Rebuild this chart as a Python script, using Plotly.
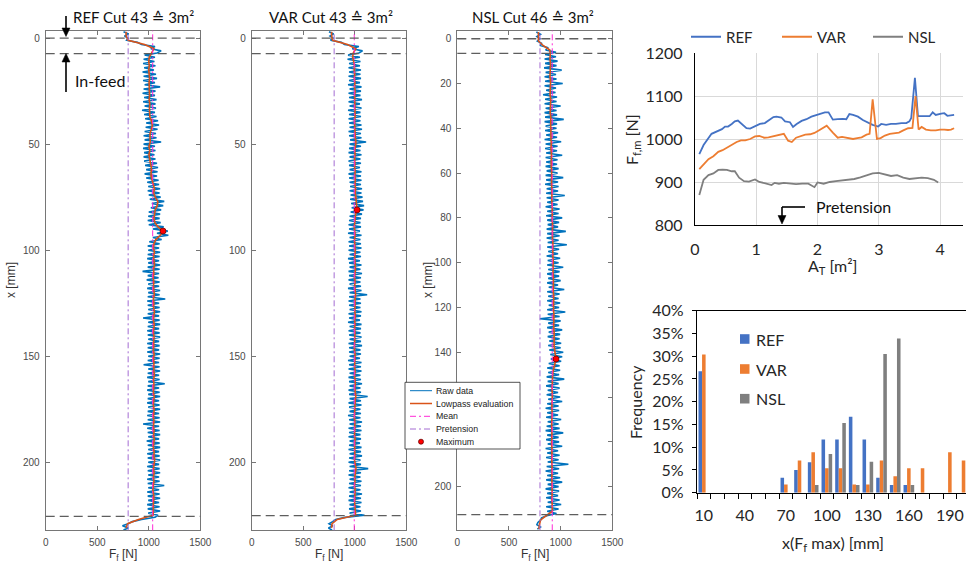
import numpy as np
import plotly.graph_objects as go

W, H = 966, 564

# ---------------------------------------------------------------------------
# Feed force along the cut (F_f in N), one sample per mm starting at x = -3 mm
# ---------------------------------------------------------------------------
ref_raw = [
    755, 805, 765, 800, 785, 890, 930, 1060, 1020, 1120,
    1080, 960, 1060, 950, 1055, 945, 1065, 955, 1050, 940,
    1070, 950, 1080, 945, 1060, 960, 1110, 950, 1065, 940,
    1060, 955, 1075, 945, 1065, 960, 1070, 935, 1060, 955,
    1075, 965, 1090, 975, 1100, 970, 1085, 960, 1070, 950,
    1075, 960, 1120, 950, 1060, 945, 1065, 955, 1055, 950,
    1065, 955, 1080, 965, 1090, 975, 1085, 960, 1080, 975,
    1095, 985, 1100, 995, 1110, 990, 1105, 1000, 1115, 1010,
    1150, 1030, 1140, 1020, 1120, 1000, 1110, 995, 1105, 990,
    1115, 1000, 1145, 1040, 1185, 1080, 1190, 1040, 1125, 1005,
    1105, 990, 1100, 995, 1110, 990, 1105, 985, 1100, 995,
    1110, 990, 1105, 940, 1100, 990, 1095, 980, 1105, 995,
    1100, 985, 1110, 995, 1105, 990, 1160, 985, 1100, 990,
    1105, 995, 1110, 990, 1100, 945, 1105, 995, 1110, 990,
    1100, 985, 1105, 990, 1110, 995, 1100, 985, 1105, 990,
    1100, 985, 1110, 995, 1105, 990, 1100, 950, 1105, 995,
    1110, 990, 1100, 985, 1105, 995, 1155, 990, 1100, 985,
    1105, 995, 1110, 990, 1100, 985, 1105, 995, 1110, 990,
    1100, 985, 1105, 990, 1110, 945, 1100, 985, 1105, 990,
    1110, 995, 1100, 980, 1105, 990, 1110, 995, 1100, 985,
    1105, 990, 1110, 995, 1100, 985, 1105, 990, 1110, 995,
    1100, 985, 1105, 990, 1150, 995, 1100, 985, 1105, 990,
    1110, 995, 1100, 985, 1105, 990, 1110, 995, 1090, 1060,
    930, 840, 800, 745, 800, 755,
]
var_raw = [
    750, 795, 760, 790, 765, 870, 900, 1040, 975, 1075,
    1040, 935, 1050, 930, 1055, 945, 1050, 940, 1060, 945,
    1055, 940, 1060, 945, 1050, 935, 1065, 950, 1060, 940,
    1055, 945, 1070, 940, 1050, 950, 1065, 935, 1055, 945,
    1060, 940, 1055, 945, 1065, 950, 1070, 940, 1060, 945,
    1065, 955, 1110, 950, 1060, 945, 1055, 940, 1065, 950,
    1055, 940, 1060, 945, 1050, 950, 1065, 940, 1060, 945,
    1065, 950, 1060, 955, 1070, 950, 1065, 960, 1075, 955,
    1080, 965, 1090, 970, 1085, 960, 1070, 950, 1060, 945,
    1055, 940, 1060, 945, 1050, 935, 1065, 950, 1055, 940,
    1060, 945, 1065, 940, 1055, 950, 1060, 935, 1050, 945,
    1065, 950, 1055, 940, 1070, 945, 1060, 940, 1055, 950,
    1060, 935, 1065, 950, 1120, 945, 1055, 940, 1060, 945,
    1055, 950, 1065, 940, 1060, 945, 1050, 935, 1065, 950,
    1060, 940, 1055, 945, 1065, 950, 1060, 940, 1070, 945,
    1055, 945, 1060, 950, 1050, 935, 1065, 945, 1060, 940,
    1065, 950, 1055, 940, 1060, 945, 1070, 950, 1055, 940,
    1060, 945, 1125, 950, 1060, 940, 1065, 945, 1055, 950,
    1060, 935, 1055, 945, 1070, 950, 1060, 940, 1065, 945,
    1055, 940, 1060, 950, 1050, 945, 1065, 940, 1060, 950,
    1070, 945, 1055, 940, 1060, 950, 1130, 945, 1060, 940,
    1055, 950, 1065, 945, 1060, 940, 1055, 950, 1070, 945,
    1060, 940, 1065, 950, 1055, 945, 1060, 950, 1095, 905,
    815, 785, 750, 785, 745, 780,
]
nsl_raw = [
    765, 805, 770, 800, 775, 815, 805, 880, 855, 955,
    850, 955, 845, 970, 850, 960, 840, 1010, 855, 955,
    845, 960, 850, 1020, 845, 955, 860, 950, 830, 965,
    850, 960, 845, 1000, 855, 960, 845, 965, 850, 1030,
    845, 965, 855, 960, 850, 975, 860, 965, 845, 1005,
    855, 970, 850, 965, 860, 1015, 855, 970, 860, 965,
    855, 980, 865, 970, 855, 1025, 860, 975, 850, 980,
    865, 975, 860, 1040, 865, 980, 870, 970, 855, 990,
    870, 980, 860, 1015, 870, 985, 875, 975, 865, 1050,
    870, 990, 865, 980, 875, 1060, 870, 985, 880, 975,
    865, 995, 875, 980, 870, 1025, 880, 990, 870, 985,
    880, 1000, 870, 975, 885, 1035, 870, 990, 880, 980,
    870, 995, 885, 985, 870, 1045, 875, 990, 800, 1000,
    880, 985, 870, 1015, 885, 995, 875, 990, 890, 1005,
    880, 1000, 890, 1025, 900, 1015, 905, 1005, 885, 990,
    870, 995, 880, 985, 865, 1035, 875, 980, 860, 990,
    875, 975, 865, 995, 880, 1015, 870, 980, 855, 985,
    870, 975, 860, 1005, 875, 980, 865, 990, 855, 1025,
    870, 980, 860, 985, 875, 1015, 855, 975, 870, 990,
    860, 980, 875, 1075, 865, 985, 855, 975, 870, 995,
    860, 1015, 875, 980, 855, 985, 870, 975, 860, 990,
    875, 1005, 860, 980, 870, 960, 865, 815, 805, 780,
    770, 805, 775,
]

# Lowpass-filtered feed force, one value every 2 mm starting at x = -3 mm
ref_lp = [
    780, 780, 800, 960, 1050, 1030, 1005, 1000, 1005, 1000,
    1005, 1008, 1003, 1007, 1005, 1008, 1004, 1010, 1007, 1005,
    1010, 1025, 1035, 1025, 1012, 1012, 1015, 1002, 1010, 1002,
    1006, 1016, 1025, 1027, 1022, 1033, 1045, 1055, 1047, 1062,
    1088, 1082, 1062, 1056, 1050, 1060, 1090, 1138, 1112, 1068,
    1050, 1045, 1055, 1046, 1050, 1056, 1046, 1050, 1042, 1049,
    1046, 1050, 1054, 1045, 1050, 1046, 1055, 1050, 1045, 1053,
    1048, 1045, 1052, 1047, 1050, 1044, 1052, 1047, 1050, 1046,
    1049, 1055, 1046, 1050, 1047, 1045, 1053, 1049, 1044, 1052,
    1048, 1046, 1050, 1045, 1052, 1047, 1053, 1050, 1044, 1052,
    1050, 1057, 1050, 1046, 1052, 1045, 1050, 1046, 1040, 1046,
    1050, 1045, 1048, 1044, 1042, 900, 795, 780,
]
var_lp = [
    775, 775, 785, 930, 1010, 985, 980, 992, 998, 995,
    1000, 996, 1002, 998, 1003, 999, 1001, 997, 1004, 1000,
    1003, 998, 1000, 1004, 999, 1005, 1012, 1005, 1000, 1003,
    998, 1002, 999, 1004, 1000, 1005, 1002, 1008, 1004, 1010,
    1012, 1016, 1022, 1008, 1003, 1000, 996, 1000, 1003, 998,
    1002, 1000, 1004, 999, 1003, 1001, 1006, 1002, 998, 1003,
    999, 1004, 1008, 1003, 1000, 1004, 1001, 1005, 999, 1003,
    998, 1002, 1000, 1004, 1001, 997, 1003, 1000, 1004, 999,
    1003, 998, 1002, 1005, 1000, 1003, 1010, 1004, 1001, 998,
    1002, 997, 1001, 1004, 1000, 998, 1003, 999, 1002, 1005,
    1001, 998, 1003, 1012, 1006, 1000, 1002, 998, 1003, 1000,
    1004, 999, 1002, 1005, 1008, 830, 780, 775,
]
nsl_lp = [
    785, 785, 785, 830, 895, 900, 897, 902, 898, 901,
    897, 903, 899, 902, 898, 904, 900, 903, 899, 905,
    901, 904, 906, 903, 907, 910, 906, 911, 908, 912,
    909, 913, 911, 915, 912, 916, 914, 917, 915, 919,
    917, 921, 919, 922, 920, 924, 921, 925, 923, 927,
    924, 928, 925, 929, 926, 930, 928, 931, 929, 933,
    930, 934, 931, 935, 932, 936, 933, 937, 935, 939,
    937, 942, 948, 955, 945, 933, 925, 922, 918, 921,
    917, 920, 916, 919, 915, 918, 914, 917, 913, 916,
    914, 917, 913, 916, 914, 918, 915, 917, 914, 918,
    915, 917, 914, 918, 916, 919, 917, 920, 860, 805,
    795, 790,
]
start_mm = -3
raw_step_mm = 1
lp_step_mm = 2

mean_force = [1038, 995, 919]
pretension_force = 800
feed_marks_mm = [[0, 7.3, 225.5], [0, 7.3, 225.2], [0, 6.5, 212.5]]
cut_titles = ["REF Cut 43 \u2259 3m\u00b2", "VAR Cut 43 \u2259 3m\u00b2", "NSL Cut 46 \u2259 3m\u00b2"]
force_ticks = [0, 500, 1000, 1500]

# ---------------------------------------------------------------------------
# Mean feed force per cut versus machined area A_T
# ---------------------------------------------------------------------------
area_ref = [0.07, 0.14, 0.27, 0.36, 0.44, 0.49, 0.54, 0.60, 0.65, 0.70,
            0.77, 0.84, 0.90, 0.95, 1.00, 1.06, 1.14, 1.21, 1.28, 1.33,
            1.41, 1.47, 1.55, 1.60, 1.66, 1.74, 1.82, 1.90, 1.98, 2.07,
            2.12, 2.18, 2.25, 2.33, 2.41, 2.47, 2.52, 2.58, 2.66, 2.74,
            2.82, 2.90, 2.99, 3.04, 3.12, 3.20, 3.28, 3.37, 3.45, 3.50,
            3.53, 3.59, 3.64, 3.69, 3.77, 3.83, 3.88, 3.93, 4.02, 4.07,
            4.12, 4.18, 4.23]
fm_ref = [965, 986, 1012, 1017, 1023, 1029, 1029, 1035, 1041, 1043,
          1035, 1025, 1024, 1027, 1031, 1035, 1037, 1043, 1051, 1052,
          1050, 1041, 1039, 1028, 1035, 1042, 1046, 1052, 1056, 1059,
          1062, 1062, 1045, 1046, 1047, 1046, 1058, 1056, 1052, 1044,
          1038, 1033, 1029, 1035, 1033, 1035, 1035, 1037, 1037, 1041,
          1049, 1142, 1053, 1053, 1053, 1053, 1062, 1056, 1059, 1060,
          1054, 1056, 1056]
area_var = [0.07, 0.14, 0.22, 0.30, 0.38, 0.45, 0.52, 0.60, 0.68, 0.75,
            0.82, 0.90, 0.98, 1.05, 1.13, 1.20, 1.28, 1.35, 1.45, 1.52,
            1.58, 1.65, 1.72, 1.80, 1.88, 1.95, 2.02, 2.10, 2.15, 2.25,
            2.33, 2.40, 2.50, 2.58, 2.65, 2.72, 2.80, 2.85, 2.90, 2.97,
            3.03, 3.10, 3.18, 3.25, 3.33, 3.40, 3.48, 3.55, 3.60, 3.65,
            3.70, 3.77, 3.85, 3.93, 4.00, 4.07, 4.13, 4.18, 4.23]
fm_var = [930, 940, 953, 960, 970, 974, 980, 985, 993, 997,
          997, 1000, 1006, 1007, 1003, 1004, 1007, 1009, 1012, 996,
          993, 1003, 1007, 1010, 1011, 1014, 1020, 1028, 1031, 1015,
          1003, 1005, 1003, 1000, 1002, 1004, 1010, 1012, 1092, 1000,
          1002, 1008, 1012, 1014, 1015, 1020, 1025, 1026, 1100, 1022,
          1028, 1022, 1020, 1020, 1022, 1022, 1021, 1022, 1025]
area_nsl = [0.07, 0.14, 0.22, 0.30, 0.38, 0.45, 0.52, 0.60, 0.65, 0.72,
            0.80, 0.88, 0.98, 1.05, 1.15, 1.25, 1.30, 1.37, 1.45, 1.55,
            1.65, 1.75, 1.85, 1.95, 2.00, 2.10, 2.20, 2.30, 2.45, 2.60,
            2.70, 2.80, 2.90, 3.00, 3.10, 3.20, 3.30, 3.40, 3.50, 3.60,
            3.70, 3.80, 3.90, 3.97]
fm_nsl = [870, 905, 916, 920, 928, 929, 928, 925, 925, 910,
          902, 901, 906, 900, 897, 893, 898, 896, 898, 897,
          895, 896, 896, 888, 899, 896, 900, 902, 905, 907,
          911, 915, 920, 921, 917, 914, 916, 910, 907, 908,
          910, 909, 905, 899]

# ---------------------------------------------------------------------------
# Position of the force maximum: frequency per 10 mm class (%)
# ---------------------------------------------------------------------------
x_classes = [10, 20, 30, 40, 50, 60, 70, 80, 90, 100,
             110, 120, 130, 140, 150, 160, 170, 180, 190, 200]
freq_ref = [26.7, 0, 0, 0, 0, 0, 3.3, 5.0, 6.7, 11.7,
            11.7, 16.7, 11.7, 3.3, 1.7, 1.7, 0, 0, 0, 0]
freq_var = [30.4, 0, 0, 0, 0, 0, 1.8, 7.1, 8.9, 5.4,
            5.4, 1.8, 1.8, 7.1, 3.6, 5.4, 5.4, 0, 8.9, 7.1]
freq_nsl = [0, 0, 0, 0, 0, 0, 0, 0, 1.7, 8.5,
            15.3, 1.7, 6.8, 30.5, 33.9, 1.7, 0, 0, 0, 0]

series_names = ["REF", "VAR", "NSL"]
series_colors = ["#4472C4", "#ED7D31", "#7F7F7F"]

# ---------------------------------------------------------------------------
RAW_C, LP_C = "#0072BD", "#D95319"
MEAN_C, PRE_C = "#FF2BD6", "#A46CD2"
FRAME_C = "#767676"
MATLAB_FONT = "Liberation Sans, Arial, sans-serif"
OFFICE_FONT = "Lato, 'Open Sans', 'DejaVu Sans', sans-serif"
DASHDOT = "6px,3px,2px,3px"


def px(v):
    return v / W


def py(v):
    return 1 - v / H


def arrow_shapes(x, y_tail, y_tip, color="black", width=1.6, head=8.5, half=4):
    """Vertical arrow drawn in pixel positions of the page (shaft + filled head)."""
    sign = 1 if y_tip > y_tail else -1
    base = y_tip - sign * head
    shaft = dict(type="line", xref="paper", yref="paper", x0=px(x), x1=px(x),
                 y0=py(y_tail), y1=py(base + sign * 1), line=dict(color=color, width=width),
                 layer="above")
    tip = dict(type="path", xref="paper", yref="paper",
               path=(f"M {px(x - half)} {py(base)} L {px(x + half)} {py(base)} "
                     f"L {px(x)} {py(y_tip)} Z"),
               fillcolor=color, line=dict(color=color, width=0.5), layer="above")
    return [shaft, tip]


fig = go.Figure()
shapes = []
annotations = []
layout = {}

panel_specs = [
    dict(raw=ref_raw, lp=ref_lp, left=45.7, right=200.3, yrange=[232.1, -3.5], dtick=50,
         title_x=133, ylabel_x=11),
    dict(raw=var_raw, lp=var_lp, left=251.7, right=406.3, yrange=[232.1, -3.5], dtick=50,
         title_x=331, ylabel_x=None),
    dict(raw=nsl_raw, lp=nsl_lp, left=457.3, right=612.3, yrange=[219.5, -3.6], dtick=20,
         title_x=533, ylabel_x=428),
]
PANEL_TOP, PANEL_BOTTOM = 30.7, 530.3

panel_axis = dict(showline=True, linecolor=FRAME_C, linewidth=1, mirror="ticks",
                  ticks="inside", ticklen=4, tickwidth=1, tickcolor=FRAME_C,
                  showgrid=False, zeroline=False, fixedrange=True,
                  tickfont=dict(family=MATLAB_FONT, size=10, color="#4a4a4a"),
                  ticklabelstandoff=3)

for i, spec in enumerate(panel_specs):
    n = i + 1
    xa = "x" if n == 1 else f"x{n}"
    ya = "y" if n == 1 else f"y{n}"
    raw = np.asarray(spec["raw"], dtype=float)
    lp = np.asarray(spec["lp"], dtype=float)
    pos_raw = start_mm + raw_step_mm * np.arange(raw.size)
    pos_lp = start_mm + lp_step_mm * np.arange(lp.size)

    fig.add_trace(go.Scatter(x=raw, y=pos_raw, mode="lines", name="Raw data",
                             line=dict(color=RAW_C, width=1.6, simplify=False),
                             xaxis=xa, yaxis=ya, showlegend=False, hoverinfo="skip"))
    fig.add_trace(go.Scatter(x=lp, y=pos_lp, mode="lines", name="Lowpass evaluation",
                             line=dict(color=LP_C, width=1.6), xaxis=xa, yaxis=ya,
                             showlegend=False, hoverinfo="skip"))
    k = int(np.argmax(lp))
    fig.add_trace(go.Scatter(x=[lp[k]], y=[pos_lp[k]], mode="markers", name="Maximum",
                             marker=dict(color="#FF0000", size=6,
                                         line=dict(color="#700000", width=0.8)),
                             xaxis=xa, yaxis=ya, showlegend=False, hoverinfo="skip"))

    for val, col in [(mean_force[i], MEAN_C), (pretension_force, PRE_C)]:
        shapes.append(dict(type="line", xref=xa, yref=f"{ya} domain", x0=val, x1=val,
                           y0=0, y1=1, line=dict(color=col, width=1, dash=DASHDOT),
                           layer="above"))
    for m in feed_marks_mm[i]:
        shapes.append(dict(type="line", xref=f"{xa} domain", yref=ya, x0=0, x1=1,
                           y0=m, y1=m, line=dict(color="#5e5e5e", width=1.3, dash="9px,5px"),
                           layer="above"))

    key = "" if n == 1 else str(n)
    layout[f"xaxis{key}"] = dict(domain=[px(spec["left"]), px(spec["right"])],
                                 range=[0, 1500], tickvals=force_ticks, anchor=ya,
                                 **panel_axis)
    layout[f"yaxis{key}"] = dict(domain=[py(PANEL_BOTTOM), py(PANEL_TOP)],
                                 range=spec["yrange"], tick0=0, dtick=spec["dtick"],
                                 anchor=xa, **panel_axis)

    annotations.append(dict(text=cut_titles[i], x=px(spec["title_x"]), y=py(16.5),
                            xref="paper", yref="paper", showarrow=False,
                            xanchor="center", yanchor="middle",
                            font=dict(family=OFFICE_FONT, size=15, color="#111111")))
    annotations.append(dict(text="F<sub>f</sub> [N]",
                            x=px((spec["left"] + spec["right"]) / 2), y=py(555),
                            xref="paper", yref="paper", showarrow=False,
                            xanchor="center", yanchor="middle",
                            font=dict(family=MATLAB_FONT, size=12, color="#333333")))
    if spec["ylabel_x"] is not None:
        annotations.append(dict(text="x [mm]", x=px(spec["ylabel_x"]), y=py(280),
                                xref="paper", yref="paper", showarrow=False, textangle=-90,
                                xanchor="center", yanchor="middle",
                                font=dict(family=MATLAB_FONT, size=12, color="#333333")))

# In-feed arrows in the first panel
shapes += arrow_shapes(66, 16, 36.5)
shapes += arrow_shapes(66, 92, 53.5)
annotations.append(dict(text="In-feed", x=px(72.5), y=py(81), xref="paper", yref="paper",
                        showarrow=False, xanchor="left", yanchor="middle",
                        font=dict(family=OFFICE_FONT, size=16, color="#111111")))

# Legend box of the force profiles
box_l, box_r, box_t, box_b = 405, 520, 382.3, 449
shapes.append(dict(type="rect", xref="paper", yref="paper", x0=px(box_l), x1=px(box_r),
                   y0=py(box_b), y1=py(box_t), fillcolor="white",
                   line=dict(color="#262626", width=0.8), layer="above"))
legend_rows = [("Raw data", RAW_C, "solid", 1),
               ("Lowpass evaluation", LP_C, "solid", 1.5),
               ("Mean", MEAN_C, DASHDOT, 1),
               ("Pretension", PRE_C, DASHDOT, 1),
               ("Maximum", None, None, None)]
row_y = [390.7, 403.5, 416.3, 429.0, 441.7]
for (label, col, dash, lw), yy in zip(legend_rows, row_y):
    if col is not None:
        shapes.append(dict(type="line", xref="paper", yref="paper", x0=px(410), x1=px(432),
                           y0=py(yy), y1=py(yy), line=dict(color=col, width=lw, dash=dash),
                           layer="above"))
    else:
        shapes.append(dict(type="circle", xref="paper", yref="paper",
                           x0=px(418.5), x1=px(423.5), y0=py(yy + 2.5), y1=py(yy - 2.5),
                           fillcolor="#FF0000", line=dict(color="#700000", width=0.8),
                           layer="above"))
    annotations.append(dict(text=label, x=px(434.5), y=py(yy), xref="paper", yref="paper",
                            showarrow=False, xanchor="left", yanchor="middle", borderpad=0,
                            font=dict(family=MATLAB_FONT, size=8.8, color="#222222")))

# ---------------------------------------------------------------------------
# Mean force versus machined area
# ---------------------------------------------------------------------------
for name, col, xs, ys in zip(series_names, series_colors,
                             [area_ref, area_var, area_nsl], [fm_ref, fm_var, fm_nsl]):
    fig.add_trace(go.Scatter(x=xs, y=ys, mode="lines", name=name,
                             line=dict(color=col, width=1.8), xaxis="x4", yaxis="y4",
                             legend="legend2", hoverinfo="skip"))

office_tick = dict(family=OFFICE_FONT, size=16, color="#262626")
layout["xaxis4"] = dict(domain=[px(695), px(963)], range=[0, 4.375], dtick=1, tick0=0,
                        showgrid=True, gridcolor="#D9D9D9", gridwidth=1.2,
                        showline=True, linecolor="black", linewidth=1.3, ticks="",
                        zeroline=False, anchor="y4", tickfont=office_tick,
                        ticklabelstandoff=10, fixedrange=True)
layout["yaxis4"] = dict(domain=[py(225), py(53)], range=[800, 1200], dtick=100,
                        showgrid=True, gridcolor="#D9D9D9", gridwidth=1.2,
                        showline=True, linecolor="black", linewidth=1.3, ticks="",
                        zeroline=False, anchor="x4", tickfont=office_tick,
                        ticklabelstandoff=8, fixedrange=True)

annotations += [
    dict(text="F<sub>f,m</sub> [N]", x=px(632), y=py(140), xref="paper", yref="paper",
         showarrow=False, textangle=-90, xanchor="center", yanchor="middle",
         font=dict(family=OFFICE_FONT, size=16, color="#262626")),
    dict(text="A<sub>T</sub> [m\u00b2]", x=px(832), y=py(266), xref="paper", yref="paper",
         showarrow=False, xanchor="center", yanchor="middle",
         font=dict(family=OFFICE_FONT, size=16, color="#262626")),
    dict(text="Pretension", x=px(814), y=py(206), xref="paper", yref="paper",
         showarrow=False, xanchor="left", yanchor="middle",
         font=dict(family=OFFICE_FONT, size=16, color="#111111")),
]
# Elbow arrow pointing at the pretension level
shapes.append(dict(type="line", xref="paper", yref="paper", x0=px(782), x1=px(805),
                   y0=py(207), y1=py(207), line=dict(color="black", width=1.6)))
shapes += arrow_shapes(782, 207, 224)

# ---------------------------------------------------------------------------
# Frequency of the maximum position
# ---------------------------------------------------------------------------
class_labels = [str(c) for c in x_classes]
for name, col, f in zip(series_names, series_colors, [freq_ref, freq_var, freq_nsl]):
    fig.add_trace(go.Bar(x=class_labels, y=np.asarray(f) / 100.0, name=name,
                         marker=dict(color=col, line=dict(width=0)),
                         xaxis="x5", yaxis="y5", showlegend=False, hoverinfo="skip"))

layout["xaxis5"] = dict(domain=[px(697), 1.0], type="category", range=[-0.5, 19.18],
                        tickvals=class_labels,
                        ticktext=[lab if j % 3 == 0 else "" for j, lab in enumerate(class_labels)],
                        tickangle=0,
                        tickson="boundaries", ticks="outside", ticklen=5, tickwidth=1,
                        tickcolor="black", showline=True, linecolor="black", linewidth=1.3,
                        mirror=True, showgrid=False, zeroline=False, anchor="y5",
                        tickfont=office_tick, ticklabelstandoff=8, fixedrange=True)
layout["yaxis5"] = dict(domain=[py(492.7), py(310.7)], range=[0, 0.40], dtick=0.05,
                        tickformat=".0%", ticks="outside", ticklen=4, tickwidth=1,
                        tickcolor="black", showline=True, linecolor="black", linewidth=1.3,
                        showgrid=False, zeroline=False, anchor="x5",
                        tickfont=office_tick, ticklabelstandoff=5, fixedrange=True)

annotations += [
    dict(text="Frequency", x=px(635), y=py(402), xref="paper", yref="paper",
         showarrow=False, textangle=-90, xanchor="center", yanchor="middle",
         font=dict(family=OFFICE_FONT, size=16, color="#262626")),
    dict(text="x(F<sub>f</sub> max) [mm]", x=px(833), y=py(543), xref="paper", yref="paper",
         showarrow=False, xanchor="center", yanchor="middle",
         font=dict(family=OFFICE_FONT, size=16, color="#262626")),
]

# Legend of the histogram (square swatches)
for name, col, yy in zip(series_names, series_colors, [339, 369, 398.7]):
    shapes.append(dict(type="rect", xref="paper", yref="paper", x0=px(740), x1=px(749.5),
                       y0=py(yy + 4.8), y1=py(yy - 4.8), fillcolor=col, line=dict(width=0),
                       layer="above"))
    annotations.append(dict(text=name, x=px(754), y=py(yy), xref="paper", yref="paper",
                            showarrow=False, xanchor="left", yanchor="middle",
                            font=dict(family=OFFICE_FONT, size=16, color="#262626")))

fig.update_layout(
    width=W, height=H, autosize=False,
    margin=dict(l=0, r=0, t=0, b=0, pad=0),
    template="none",
    paper_bgcolor="white", plot_bgcolor="white",
    hovermode=False,
    barmode="group", bargap=0.22, bargroupgap=0,
    shapes=shapes, annotations=annotations,
    legend2=dict(orientation="h", x=px(686), y=py(37), xanchor="left", yanchor="middle",
                 entrywidth=46, entrywidthmode="pixels", bgcolor="rgba(0,0,0,0)",
                 borderwidth=0, traceorder="normal",
                 font=dict(family=OFFICE_FONT, size=15, color="#262626")),
    **layout,
)

fig.write_html("out.html", config={"displayModeBar": False})
